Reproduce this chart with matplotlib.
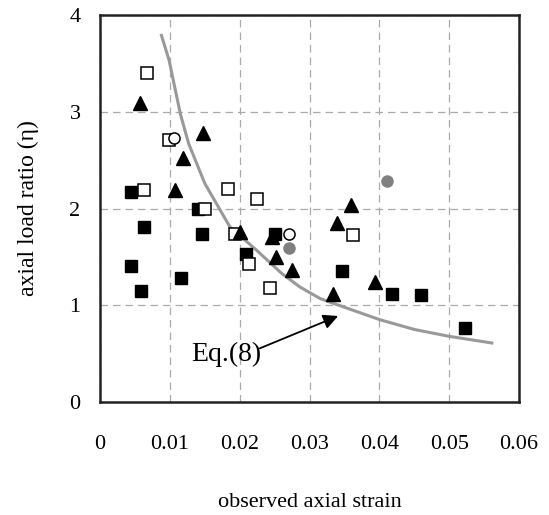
#!/usr/bin/env python3
"""Axial load ratio vs observed axial strain, with Eq.(8) curve."""

import matplotlib
matplotlib.use("Agg")
import matplotlib.pyplot as plt

plt.rcParams.update({
    "font.family": "serif",
    "font.serif": ["Liberation Serif", "DejaVu Serif"],
    "font.size": 16,
    "mathtext.default": "regular",
})

# filled squares
fsq_x = [0.0044, 0.0063, 0.0141, 0.0146, 0.0251, 0.0209, 0.0045, 0.0116, 0.0058,
         0.0347, 0.0418, 0.0459, 0.0523]
fsq_y = [2.17, 1.81, 2.00, 1.74, 1.74, 1.53, 1.41, 1.28, 1.15,
         1.35, 1.12, 1.11, 0.76]

# open squares
osq_x = [0.0068, 0.0099, 0.0063, 0.0184, 0.0225, 0.0150, 0.0193, 0.0214, 0.0244, 0.0363]
osq_y = [3.40, 2.71, 2.19, 2.20, 2.10, 2.00, 1.74, 1.43, 1.18, 1.73]

# filled triangles
tri_x = [0.0057, 0.0147, 0.0119, 0.0108, 0.0201, 0.0246, 0.0252, 0.0275,
         0.0359, 0.0339, 0.0394, 0.0334]
tri_y = [3.09, 2.78, 2.52, 2.19, 1.76, 1.71, 1.50, 1.36,
         2.04, 1.85, 1.24, 1.12]

# open circles
ocir_x = [0.0106, 0.0270]
ocir_y = [2.73, 1.74]

# gray circles
gcir_x = [0.0271, 0.0411]
gcir_y = [1.59, 2.28]

# Eq.(8) curve
eq_x = [0.0088, 0.0099, 0.0115, 0.0127, 0.0150, 0.0186, 0.0224, 0.0260,
        0.0286, 0.0315, 0.0334, 0.0401, 0.0450, 0.0499, 0.0561]
eq_y = [3.79, 3.53, 2.98, 2.67, 2.26, 1.81, 1.57, 1.33,
        1.19, 1.07, 1.02, 0.85, 0.75, 0.68, 0.61]

fig = plt.figure(figsize=(5.49, 5.15), dpi=100)
ax = fig.add_axes([100 / 549, 1 - 402 / 515, 419 / 549, 387 / 515])

ax.plot(eq_x, eq_y, color="#999999", linewidth=2.2, zorder=2)

ms = 8
ax.plot(fsq_x, fsq_y, "s", color="black", ms=ms, zorder=3)
ax.plot(osq_x, osq_y, "s", mfc="white", mec="black", mew=1.1, ms=ms, zorder=3)
ax.plot(tri_x, tri_y, "^", color="black", ms=ms + 1.5, zorder=4)
ax.plot(ocir_x, ocir_y, "o", mfc="white", mec="black", mew=1.1, ms=ms, zorder=4)
ax.plot(gcir_x, gcir_y, "o", color="#808080", ms=ms, zorder=4)

ax.annotate("", xy=(0.0341, 0.889), xytext=(0.0229, 0.555),
            arrowprops=dict(arrowstyle="-|>", color="black", lw=1.3,
                            mutation_scale=22, shrinkA=0, shrinkB=0))
ax.text(0.0131, 0.49, "Eq.(8)", fontsize=20, ha="left", va="center")

ax.set_xlim(0, 0.06)
ax.set_ylim(0, 4)
ax.set_xticks([0, 0.01, 0.02, 0.03, 0.04, 0.05, 0.06])
ax.set_xticklabels(["0", "0.01", "0.02", "0.03", "0.04", "0.05", "0.06"])
ax.set_yticks([0, 1, 2, 3, 4])
ax.tick_params(axis="x", length=0, pad=24)
ax.tick_params(axis="y", length=0, pad=14)
ax.grid(True, color="#aaaaaa", linestyle=(0, (6, 4)), linewidth=0.9)
ax.set_axisbelow(True)
for sp in ax.spines.values():
    sp.set_color("#222222")
    sp.set_linewidth(1.8)

ax.set_xlabel("observed axial strain", labelpad=28)
ax.set_ylabel("axial load ratio (η)", fontsize=17, labelpad=22)

fig.savefig("out.png", dpi=100)
